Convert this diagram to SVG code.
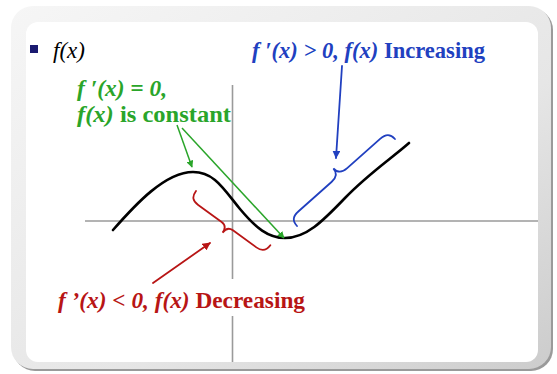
<svg xmlns="http://www.w3.org/2000/svg" width="557" height="374" viewBox="0 0 557 374">
<style>
.axis{stroke:#9a9a9a;stroke-width:1.6;fill:none}
.curve{stroke:#000;stroke-width:2.6;fill:none;stroke-linecap:round}
.g{stroke:#2aa52a;stroke-width:1.5;fill:none}
.b{stroke:#2140c0;stroke-width:1.8;fill:none;stroke-linecap:round}
.r{stroke:#b81515;stroke-width:1.8;fill:none;stroke-linecap:round}
.t{font-family:"Liberation Serif","Times New Roman",serif;font-size:23px}
.it{font-style:italic}
.bd{font-weight:bold}
</style>
<defs>
<linearGradient id="bevel" x1="0" y1="0" x2="1" y2="1">
<stop offset="0" stop-color="#f6f6f6"/>
<stop offset="0.6" stop-color="#e6e6e6"/>
<stop offset="1" stop-color="#cccccc"/>
</linearGradient>
<marker id="ag" viewBox="0 0 10 10" refX="9" refY="5" markerWidth="7" markerHeight="7" orient="auto" markerUnits="userSpaceOnUse"><path d="M0,0 L10,5 L0,10 z" fill="#2aa52a"/></marker>
<marker id="ab" viewBox="0 0 10 10" refX="9" refY="5" markerWidth="8" markerHeight="8" orient="auto" markerUnits="userSpaceOnUse"><path d="M0,0 L10,5 L0,10 z" fill="#2140c0"/></marker>
<marker id="ar" viewBox="0 0 10 10" refX="9" refY="5" markerWidth="8" markerHeight="8" orient="auto" markerUnits="userSpaceOnUse"><path d="M0,0 L10,5 L0,10 z" fill="#b81515"/></marker>
</defs>
<g id="frame">
<rect x="13" y="8" width="540" height="363" rx="22" fill="#9a9a9a"/>
<rect x="11" y="6" width="540" height="363" rx="22" fill="url(#bevel)"/>
<rect x="26" y="22" width="512" height="340" rx="12" fill="#ffffff"/>
</g>
<g id="title">
<rect x="30" y="45" width="8" height="8" fill="#1a1a70"/>
<text class="t it" x="53" y="58">f(x)</text>
</g>
<g id="axes">
<line class="axis" x1="85" y1="221" x2="538" y2="221"/>
<line class="axis" x1="232.5" y1="85" x2="232.5" y2="279"/>
<line class="axis" x1="232.5" y1="316" x2="232.5" y2="362"/>
</g>
<g id="graph">
<path class="curve" d="M113,230 C135,205 165,172 193,172 C214,172 223,188 240,209 C256,228 268,238 285,238 C306,238 322,222 345,198 S392,158 409,143"/>
</g>
<g id="connectors">
<line class="g" x1="177" y1="125" x2="192" y2="167" marker-end="url(#ag)"/>
<line class="g" x1="182" y1="128" x2="284" y2="238" marker-end="url(#ag)"/>
<line class="b" x1="342" y1="66" x2="336" y2="158" marker-end="url(#ab)"/>
<line class="r" x1="153" y1="283" x2="210" y2="243" marker-end="url(#ar)"/>
<path class="b" transform="translate(297,226) rotate(-41.6)" d="M0,0 C0,-7 3,-10 11,-10 L55,-10 C62,-10 65.5,-13 65.5,-19 C65.5,-13 69,-10 76,-10 L120,-10 C128,-10 131,-7 131,0"/>
<path class="r" transform="translate(196,191) rotate(36.1)" d="M0,0 C0,7 3,10 10,10 L39,10 C44,10 46,13 46,18 C46,13 48,10 53,10 L82,10 C89,10 92,7 92,0"/>
</g>
<g id="label-increasing">
<text class="t bd" x="252" y="58" fill="#2140c0" textLength="233" lengthAdjust="spacingAndGlyphs" style="font-size:24px"><tspan class="it">f ′(x) &gt; 0, f(x)</tspan> Increasing</text>
</g>
<g id="label-constant">
<text class="t bd it" x="77" y="96" fill="#2aa52a" textLength="90" lengthAdjust="spacingAndGlyphs" style="font-size:23px">f ′(x) = 0,</text>
<text class="t bd" x="77" y="122" fill="#2aa52a" textLength="154" lengthAdjust="spacingAndGlyphs" style="font-size:23px"><tspan class="it">f(x)</tspan> is constant</text>
</g>
<g id="label-decreasing">
<text class="t bd" x="58" y="308" fill="#b81515" textLength="247" lengthAdjust="spacingAndGlyphs" style="font-size:24px"><tspan class="it">f ’(x) &lt; 0, f(x)</tspan> Decreasing</text>
</g>
</svg>
